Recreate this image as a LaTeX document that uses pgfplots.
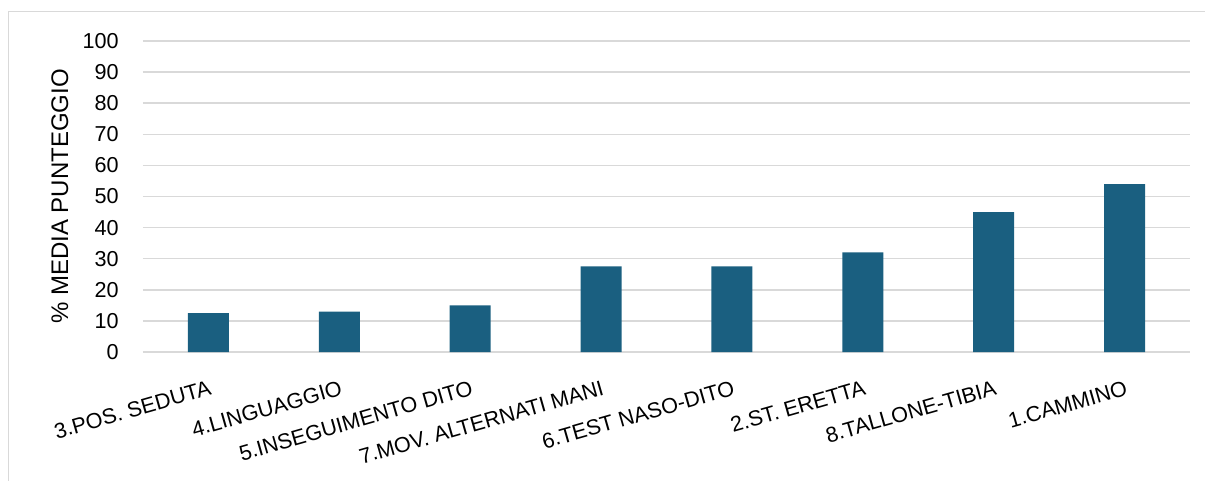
\documentclass[border=0pt]{standalone}
\usepackage{fontspec}
\setmainfont{Liberation Sans}
\usepackage{pgfplots}
\pgfplotsset{compat=1.18}
\definecolor{barblue}{HTML}{1A5F80}
\definecolor{gridgray}{HTML}{D9D9D9}
\begin{document}
\begin{tikzpicture}
\useasboundingbox (-71.5bp,-64.5bp) rectangle (531bp,176bp);
% frame of the cropped chart area
\draw[gridgray, line width=0.7bp] (-67.35bp,-70bp) -- (-67.35bp,170.15bp) -- (540bp,170.15bp);
\begin{axis}[
    at={(0,0)}, anchor=south west,
    scale only axis, width=523.5bp, height=155.5bp,
    ybar, bar width=20.5bp,
    xmin=-0.5, xmax=7.5, ymin=0, ymax=100,
    xtick={0,1,2,3,4,5,6,7},
    xticklabels={3.POS. SEDUTA, 4.LINGUAGGIO, 5.INSEGUIMENTO DITO,
        7.MOV. ALTERNATI MANI, 6.TEST NASO-DITO, 2.ST. ERETTA,
        8.TALLONE-TIBIA, 1.CAMMINO},
    ytick={0,10,20,30,40,50,60,70,80,90,100},
    ymajorgrids, grid style={gridgray, line width=0.75bp},
    axis line style={draw=none}, major tick style={draw=none},
    /pgf/number format/assume math mode=true,
    ticklabel style={font=\fontsize{10.8bp}{12bp}\selectfont, inner sep=0pt},
    xticklabel style={rotate=16, anchor=north east},
    xticklabel shift=9.5bp,
    yticklabel shift=12bp,
    ylabel={\% MEDIA PUNTEGGIO},
    every axis y label/.style={at={(axis description cs:-0.0793,0.5)},
        rotate=90, anchor=center, font=\fontsize{12bp}{14bp}\selectfont},
]
\addplot[fill=barblue, draw=none] coordinates {
    (0,12.5) (1,13) (2,15) (3,27.5) (4,27.5) (5,32) (6,45) (7,54)
};
\end{axis}
\end{tikzpicture}
\end{document}
